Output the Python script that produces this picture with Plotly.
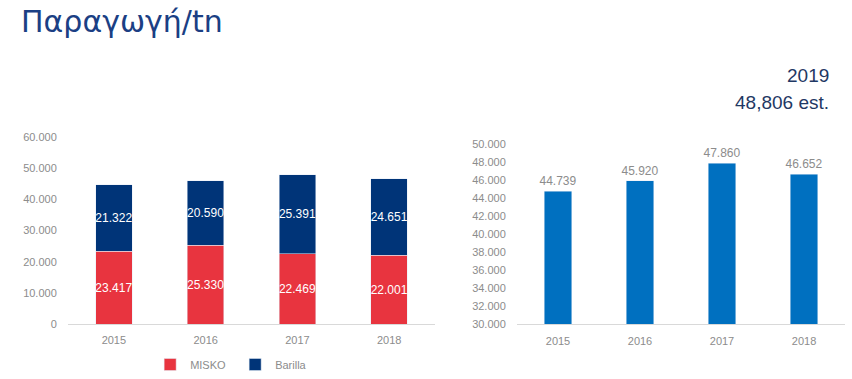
import plotly.graph_objects as go

years = ["2015", "2016", "2017", "2018"]
misko = [23417, 25330, 22469, 22001]
barilla = [21322, 20590, 25391, 24651]
total = [44739, 45920, 47860, 46652]

title_text = "Παραγωγή/tn"
est_year = "2019"
est_text = "48,806 est."

RED = "#E8343F"
NAVY = "#003478"
BLUE = "#0070C0"
GRAY = "#8C8C8C"
FONT = "Liberation Sans, Arial, sans-serif"

fig = go.Figure()
fig.add_trace(go.Bar(
    x=years, y=misko, name="MISKO", marker_color=RED, width=0.40,
    texttemplate="%{y:,}", textposition="inside", insidetextanchor="middle",
    textangle=0, constraintext="none",
    textfont=dict(color="white", size=12, family=FONT), xaxis="x", yaxis="y",
    hoverinfo="skip"))
fig.add_trace(go.Bar(
    x=years, y=barilla, name="Barilla", marker_color=NAVY, width=0.40,
    texttemplate="%{y:,}", textposition="inside", insidetextanchor="middle",
    textangle=0, constraintext="none",
    textfont=dict(color="white", size=12, family=FONT), xaxis="x", yaxis="y",
    hoverinfo="skip"))
fig.add_trace(go.Bar(
    x=years, y=total, name="Total", marker_color=BLUE, width=0.33,
    texttemplate="%{y:,}", textposition="outside", cliponaxis=False,
    textangle=0, constraintext="none",
    textfont=dict(color=GRAY, size=12, family=FONT), xaxis="x2", yaxis="y2",
    showlegend=False, hoverinfo="skip"))

fig.update_layout(
    width=852, height=379,
    margin=dict(l=0, r=0, t=0, b=0),
    paper_bgcolor="white", plot_bgcolor="white",
    barmode="stack",
    separators=",.",
    font=dict(family=FONT, color=GRAY, size=11),
    showlegend=True,
    legend=dict(orientation="h", x=0.276, xanchor="center", y=0, yanchor="bottom",
                font=dict(size=11, color=GRAY), traceorder="normal",
                itemwidth=30, entrywidth=40, bgcolor="rgba(0,0,0,0)"),
    xaxis=dict(domain=[0.0798, 0.5106], anchor="y", showgrid=False, showline=True,
               linecolor="#D9D9D9", linewidth=1, ticks="outside", ticklen=6,
               tickcolor="rgba(0,0,0,0)", tickfont=dict(size=11, color=GRAY),
               automargin=False),
    yaxis=dict(domain=[0.1451, 0.6385], range=[0, 60000], dtick=10000, anchor="x",
               showgrid=False, showline=False, zeroline=False, tickformat=",",
               ticks="outside", ticklen=8, tickcolor="rgba(0,0,0,0)",
               tickfont=dict(size=11, color=GRAY), automargin=False),
    xaxis2=dict(domain=[0.6068, 0.9918], anchor="y2", showgrid=False, showline=True,
                linecolor="#D9D9D9", linewidth=1, ticks="outside", ticklen=6,
                tickcolor="rgba(0,0,0,0)", tickfont=dict(size=11, color=GRAY),
                automargin=False),
    yaxis2=dict(domain=[0.1438, 0.6201], range=[30000, 50000], dtick=2000, anchor="x2",
                showgrid=False, showline=False, zeroline=False, tickformat=",",
                ticks="outside", ticklen=8, tickcolor="rgba(0,0,0,0)",
                tickfont=dict(size=11, color=GRAY), automargin=False),
    annotations=[
        dict(text=title_text, xref="paper", yref="paper", x=0.022, y=1, yshift=-2,
             xanchor="left", yanchor="top", showarrow=False,
             font=dict(size=30, color="#1B3F84", family="DejaVu Sans, sans-serif")),
        dict(text=est_year, xref="paper", yref="paper", x=831 / 852, y=1 - 75 / 379,
             xanchor="right", yanchor="middle", showarrow=False,
             font=dict(size=19, color="#1F3864", family=FONT)),
        dict(text=est_text, xref="paper", yref="paper", x=831 / 852, y=1 - 103 / 379,
             xanchor="right", yanchor="middle", showarrow=False,
             font=dict(size=19, color="#1F3864", family=FONT)),
    ],
)

fig.write_html("out.html", config={"displayModeBar": False},
               post_script="document.body.style.margin='0';")
